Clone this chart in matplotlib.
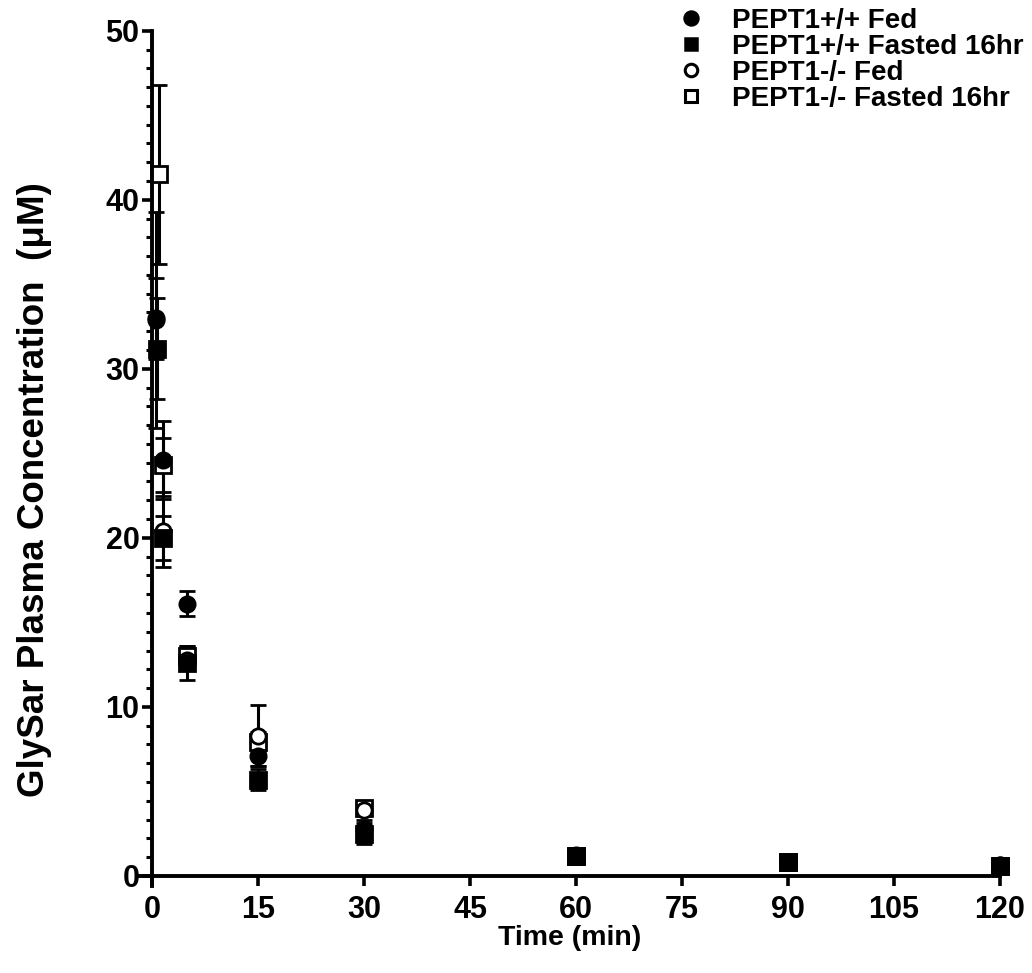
import matplotlib
matplotlib.use('Agg')
import matplotlib.pyplot as plt
import numpy as np
from matplotlib.lines import Line2D

plt.rcParams['font.family'] = ['Liberation Sans', 'DejaVu Sans']
plt.rcParams['font.weight'] = 'bold'

# time points (min) per group, slightly offset at the earliest samples
t_wt_fed = [0.5, 1.5, 5, 15, 30, 60, 90, 120]
t_wt_fast = [0.75, 1.5, 5, 15, 30, 60, 90, 120]
t_ko_fed = [0.5, 1.5, 5, 15, 30, 60, 90, 120]
t_ko_fast = [1.0, 1.5, 5, 15, 30, 60, 90, 120]

# mean GlySar plasma concentration (uM) and SEM
wt_fed = [33.0, 24.6, 16.1, 7.1, 2.8, 1.2, 0.8, 0.65]
wt_fed_sem = [2.4, 2.3, 0.75, 0.6, 0.5, 0.15, 0.1, 0.1]
wt_fast = [31.2, 20.0, 12.6, 5.7, 2.5, 1.15, 0.8, 0.6]
wt_fast_sem = [3.0, 1.3, 1.0, 0.6, 0.6, 0.15, 0.1, 0.1]
ko_fed = [32.9, 20.4, 12.8, 8.3, 3.9, 1.25, 0.85, 0.65]
ko_fed_sem = [6.4, 2.1, 0.5, 1.8, 0.3, 0.15, 0.1, 0.1]
ko_fast = [41.5, 24.3, 13.0, 7.9, 4.0, 1.2, 0.8, 0.6]
ko_fast_sem = [5.3, 1.6, 0.6, 0.6, 0.3, 0.15, 0.1, 0.1]

labels = ['PEPT1+/+ Fed', 'PEPT1+/+ Fasted 16hr', 'PEPT1-/- Fed', 'PEPT1-/- Fasted 16hr']

fig = plt.figure(figsize=(10.32, 9.73), dpi=100)
ax = fig.add_axes([0.135, 0.0894, 0.834, 0.879])

# knockout groups first so the filled wild-type markers sit on top
groups = [
    (t_ko_fast, ko_fast, ko_fast_sem, 's', 'white'),
    (t_ko_fed, ko_fed, ko_fed_sem, 'o', 'white'),
    (t_wt_fed, wt_fed, wt_fed_sem, 'o', 'black'),
    (t_wt_fast, wt_fast, wt_fast_sem, 's', 'black'),
]
for t, y, e, m, fc in groups:
    ax.errorbar(t, y, yerr=e, fmt=m, color='black', mfc=fc, mec='black',
                ms=11, mew=2, elinewidth=2.2, capsize=6, capthick=2.2,
                clip_on=False)

ax.set_xlim(-1.8, 120)
ax.set_ylim(-0.6, 50)
ax.spines['top'].set_visible(False)
ax.spines['right'].set_visible(False)
ax.spines['left'].set_position(('data', 0))
ax.spines['bottom'].set_position(('data', 0))
ax.spines['left'].set_linewidth(2.8)
ax.spines['bottom'].set_linewidth(2.8)

ax.set_xticks(np.arange(0, 121, 15))
ax.set_yticks(np.arange(0, 51, 10))
minor = [k * 10 + i * 10 / 9 for k in range(5) for i in range(1, 9)]
ax.set_yticks(minor, minor=True)
ax.tick_params(axis='both', which='major', length=7, width=2.6, labelsize=22, direction='out')
ax.tick_params(axis='y', which='minor', length=4, width=2.2, direction='out')
ax.tick_params(axis='x', pad=7)
ax.tick_params(axis='y', pad=2)
for lab in ax.get_xticklabels() + ax.get_yticklabels():
    lab.set_fontweight('bold')

ax.set_xlabel('Time (min)', fontsize=20.5, fontweight='bold', labelpad=0)
ax.set_ylabel('GlySar Plasma Concentration  (\u03bcM)', fontsize=26.5, fontweight='bold')
ax.yaxis.set_label_coords(-0.102, 0.463)

handles = [
    Line2D([], [], marker='o', ls='none', mfc='black', mec='black', ms=10, mew=1.8),
    Line2D([], [], marker='s', ls='none', mfc='black', mec='black', ms=9, mew=1.8),
    Line2D([], [], marker='o', ls='none', mfc='white', mec='black', ms=9, mew=2.2),
    Line2D([], [], marker='s', ls='none', mfc='white', mec='black', ms=9, mew=2.2),
]
fig.legend(handles, labels, loc='upper left', bbox_to_anchor=(0.637, 1.012),
           frameon=False, prop={'size': 20, 'weight': 'bold'},
           handlelength=1.0, handletextpad=1.0, labelspacing=0.0, borderpad=0.2)

fig.savefig('out.png', dpi=100)
